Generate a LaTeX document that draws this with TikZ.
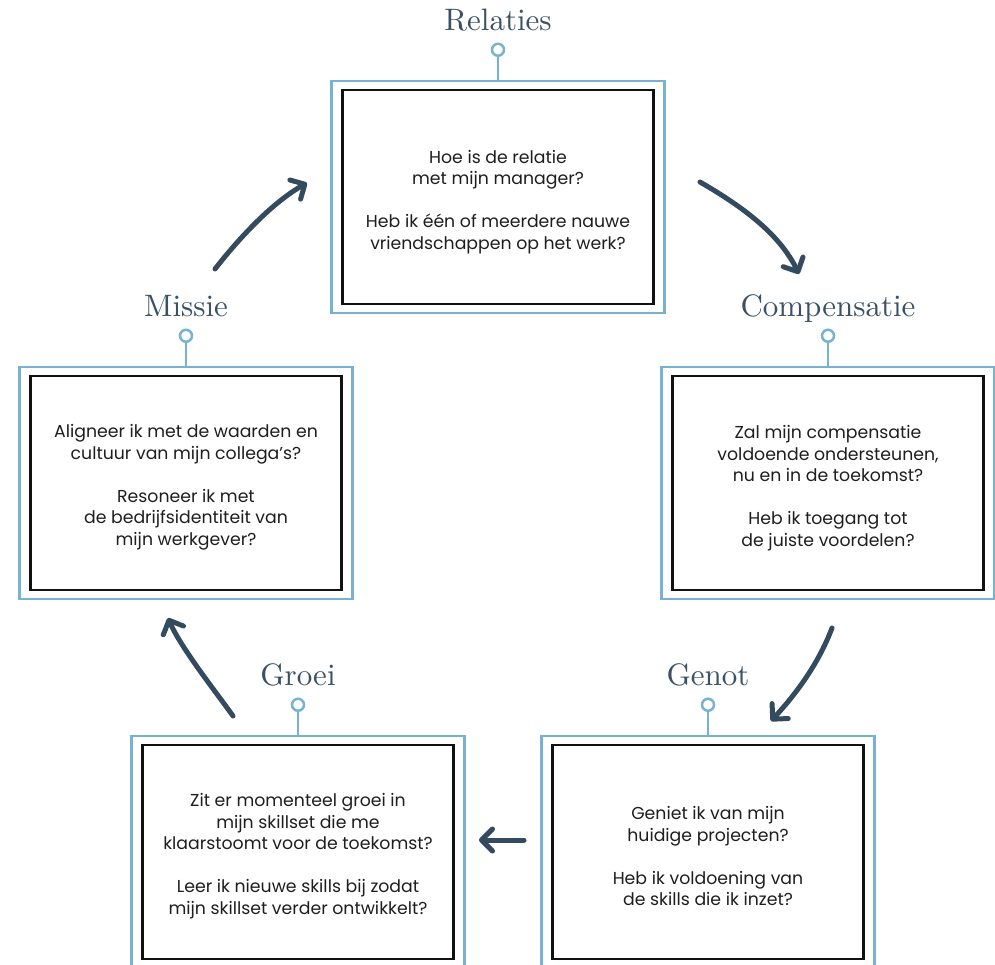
\documentclass[tikz,border=0pt]{standalone}
\usepackage{fontspec}
\newfontfamily\bodyfont{Poppins}
\newfontfamily\headfont{lmroman10-regular}[Extension=.otf]
\usetikzlibrary{arrows.meta}

\definecolor{frameblue}{RGB}{120,178,210}
\definecolor{titleblue}{RGB}{58,80,100}
\definecolor{arrowslate}{RGB}{52,74,94}
\definecolor{cardblack}{RGB}{17,17,17}
\definecolor{textblack}{RGB}{30,30,30}

\begin{document}
\begin{tikzpicture}[x=1pt,y=-1pt,
  frame/.style={draw=frameblue, line width=2.5pt, minimum width=333pt,
    minimum height=232pt, inner sep=0pt},
  card/.style={draw=cardblack, line width=2.6pt, minimum width=311pt,
    minimum height=214pt, inner sep=0pt},
  question/.style={align=center, text=textblack, inner sep=0pt,
    font=\bodyfont\fontsize{17.3}{21.5}\selectfont},
  heading/.style={anchor=base, text=titleblue, inner sep=0pt,
    font=\headfont\fontsize{31}{36}\selectfont},
  pinline/.style={draw=frameblue, line width=2.5pt},
  flow/.style={draw=arrowslate, line width=5pt, line cap=round,
    -{Straight Barb[length=11pt, width=22pt, round]}}]

\useasboundingbox (0,0) rectangle (995,965);
\clip (0,0) rectangle (995,965);

% outer blue frames
\node[frame] (relF)  at (498,197) {};
\node[frame] (compF) at (828,483) {};
\node[frame] (misF)  at (186,483) {};
\node[frame] (groF)  at (298,852) {};
\node[frame] (genF)  at (708,852) {};

% inner black cards
\node[card] (rel)  at (498,197) {};
\node[card] (comp) at (828,483) {};
\node[card] (mis)  at (186,483) {};
\node[card] (gro)  at (298,852) {};
\node[card] (gen)  at (708,852) {};

% questions inside the cards
\node[question] (relQ) at ([yshift=-5pt]rel.center)
  {Hoe is de relatie\\met mijn manager?\\[21.5pt]
   Heb ik één of meerdere nauwe\\vriendschappen op het werk?};
\node[question] (compQ) at ([yshift=-5pt]comp.center)
  {Zal mijn compensatie\\voldoende ondersteunen,\\nu en in de toekomst?\\[21.5pt]
   Heb ik toegang tot\\de juiste voordelen?};
\node[question] (misQ) at ([yshift=-4pt]mis.center)
  {Aligneer ik met de waarden en\\cultuur van mijn collega’s?\\[21.5pt]
   Resoneer ik met\\de bedrijfsidentiteit van\\mijn werkgever?};
\node[question] (groQ) at ([yshift=-4pt]gro.center)
  {Zit er momenteel groei in\\mijn skillset die me\\klaarstoomt voor de toekomst?\\[21.5pt]
   Leer ik nieuwe skills bij zodat\\mijn skillset verder ontwikkelt?};
\node[question] (genQ) at ([yshift=-4pt]gen.center)
  {Geniet ik van mijn\\huidige projecten?\\[21.5pt]
   Heb ik voldoening van\\de skills die ik inzet?};

% pins and headings above each frame
\foreach \f/\t in {relF/Relaties, compF/Compensatie, misF/Missie,
                   groF/Groei, genF/Genot}{
  \draw[pinline] (\f.north) -- ++(0,-24);
  \draw[pinline] (\f.north) ++(0,-30) circle[radius=6pt];
  \node[heading] (\f-title) at ([yshift=49pt]\f.north) {\t};
}

% cycle arrows
\coordinate (a1s) at (700,182);  \coordinate (a1e) at (799,274);
\coordinate (a2s) at (832,628);  \coordinate (a2e) at (771,721);
\coordinate (a3s) at (524,840);  \coordinate (a3e) at (479,840);
\coordinate (a4s) at (233,716);  \coordinate (a4e) at (168,618);
\coordinate (a5s) at (215,269);  \coordinate (a5e) at (307,183);

\draw[flow] (a1s) .. controls (745,208) and (780,235) .. (a1e);
\draw[flow] (a2s) .. controls (818,665) and (795,695) .. (a2e);
\draw[flow] (a3s) -- (a3e);
\draw[flow] (a4s) .. controls (216,692) and (181,648) .. (a4e);
\draw[flow] (a5s) .. controls (240,237) and (273,202) .. (a5e);

\end{tikzpicture}
\end{document}
